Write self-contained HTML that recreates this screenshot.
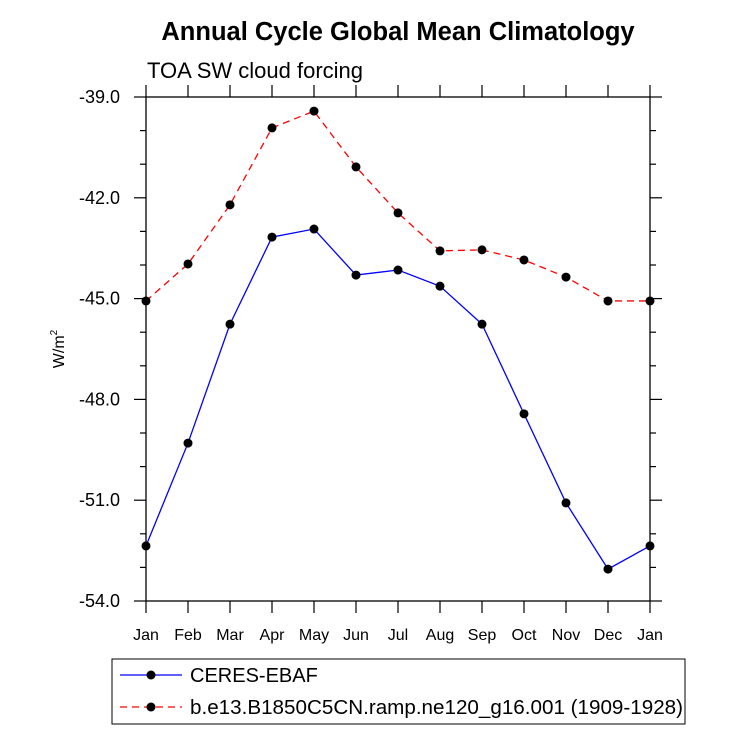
<!DOCTYPE html>
<html><head><meta charset="utf-8"><style>
body{margin:0;background:#fff}
svg text{font-family:"Liberation Sans",Helvetica,sans-serif}
</style></head><body>
<svg id="c" width="733" height="732" viewBox="0 0 733 732" xmlns="http://www.w3.org/2000/svg">
<text x="398" y="40" text-anchor="middle" font-size="25.5" font-weight="bold">Annual Cycle Global Mean Climatology</text>
<text x="147" y="78" font-size="22">TOA SW cloud forcing</text>
<text transform="translate(64,349) rotate(-90)" text-anchor="middle" font-size="16">W/m<tspan dy="-7" font-size="10">2</tspan></text>
<g id="axes"></g>
<g id="series"></g>
<g>
<rect x="112" y="659" width="573" height="65" fill="#fff" stroke="#000" stroke-width="1"/>
<line x1="120" y1="675" x2="182" y2="675" stroke="#00f" stroke-width="1.2"/>
<circle cx="151" cy="675" r="4.5"/>
<text x="190" y="682" font-size="20">CERES-EBAF</text>
<line x1="120" y1="707" x2="182" y2="707" stroke="#f00" stroke-width="1.2" stroke-dasharray="7,5"/>
<circle cx="151" cy="707" r="4.5"/>
<text x="190" y="714" font-size="20" textLength="493" lengthAdjust="spacingAndGlyphs">b.e13.B1850C5CN.ramp.ne120_g16.001 (1909-1928)</text>
</g>
</svg>
<script>
const months=["Jan","Feb","Mar","Apr","May","Jun","Jul","Aug","Sep","Oct","Nov","Dec","Jan"];
const ceres=[-52.36,-49.3,-45.76,-43.17,-42.93,-44.3,-44.15,-44.63,-45.76,-48.43,-51.08,-53.05,-52.36];
const model=[-45.07,-43.97,-42.21,-39.92,-39.42,-41.08,-42.45,-43.58,-43.55,-43.85,-44.36,-45.07,-45.07];
const yTicks=[-39,-42,-45,-48,-51,-54];
const L=146,R=650,T=97,B=601,ymin=-54,ymax=-39;
const sx=i=>L+i*(R-L)/12;
const sy=v=>B-(v-ymin)/(ymax-ymin)*(B-T);
const NS="http://www.w3.org/2000/svg";
function mk(t,a,p){const e=document.createElementNS(NS,t);for(const k in a)e.setAttribute(k,a[k]);p.appendChild(e);return e;}
const ax=document.getElementById('axes');
const frame=mk('rect',{x:L,y:T,width:R-L,height:B-T,fill:'none',stroke:'#000','stroke-width':1.3},ax);


for(let v=ymin;v<=ymax;v+=1){
  const y=sy(v);const maj=yTicks.includes(v);const len=maj?12:6;
  mk('line',{x1:L-len,y1:y,x2:L,y2:y,stroke:'#000','stroke-width':1.2},ax);
  mk('line',{x1:R,y1:y,x2:R+len,y2:y,stroke:'#000','stroke-width':1.2},ax);
}
yTicks.forEach(v=>{
  const t=mk('text',{x:L-26,y:sy(v)+6,'text-anchor':'end','font-size':18},ax);
  t.textContent=v.toFixed(1);
  
  
});
months.forEach((m,i)=>{
  const x=sx(i);
  mk('line',{x1:x,y1:B,x2:x,y2:B+12,stroke:'#000','stroke-width':1.2},ax);
  mk('line',{x1:x,y1:T-12,x2:x,y2:T,stroke:'#000','stroke-width':1.2},ax);
  const t=mk('text',{x:x,y:B+39,'text-anchor':'middle','font-size':16},ax);
  t.textContent=m;
  
  
});
const sg=document.getElementById('series');
function draw(vals,color,dash,name){
  const pts=vals.map((v,i)=>sx(i)+','+sy(v)).join(' ');
  const pl=mk('polyline',{points:pts,fill:'none',stroke:color,'stroke-width':1.3},sg);
  if(dash)pl.setAttribute('stroke-dasharray',dash);
  
  
  vals.forEach((v,i)=>{
    const c=mk('circle',{cx:sx(i),cy:sy(v),r:4.5,fill:'#000'},sg);
    
    
  });
}
draw(model,'#f00','7,5','model');
draw(ceres,'#00f',null,'ceres');
</script>
</body></html>
